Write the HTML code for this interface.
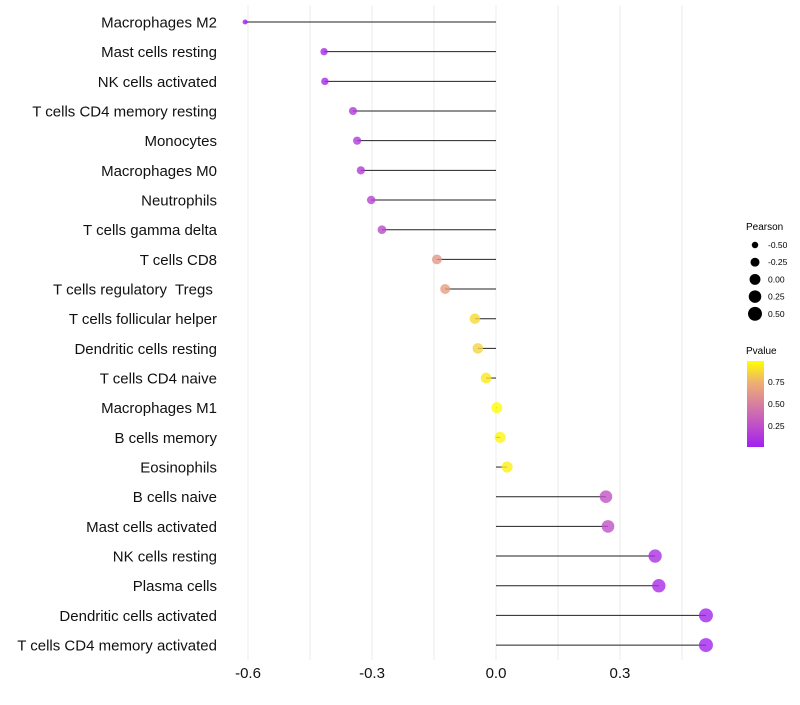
<!DOCTYPE html>
<html><head><meta charset="utf-8"><style>
body{margin:0;background:#fff;font-family:"Liberation Sans",sans-serif}
</style></head><body>
<svg id="chart" width="800" height="700" xmlns="http://www.w3.org/2000/svg" font-family="Liberation Sans, sans-serif">
<defs><linearGradient id="pg" x1="0" y1="1" x2="0" y2="0">
<stop offset="0" stop-color="#a020f0"/><stop offset="0.25" stop-color="#c050c8"/><stop offset="0.5" stop-color="#d87fa0"/><stop offset="0.75" stop-color="#eeb070"/><stop offset="1" stop-color="#ffff00"/></linearGradient></defs>
<g id="grid"></g>
<g id="marks"></g>
<g id="labels"></g>
<g id="xt"></g>
<g id="sl">
<text x="746" y="230" font-size="10">Pearson</text>
</g>
<g>
<text x="746" y="354" font-size="10">Pvalue</text>
<rect x="747" y="361" width="17" height="86" fill="url(#pg)"/>
<text x="768" y="385" font-size="8.5">0.75</text>
<text x="768" y="407" font-size="8.5">0.50</text>
<text x="768" y="429" font-size="8.5">0.25</text>
</g>
</svg>
<script>
const categories=["Macrophages M2","Mast cells resting","NK cells activated","T cells CD4 memory resting","Monocytes","Macrophages M0","Neutrophils","T cells gamma delta","T cells CD8","T cells regulatory  Tregs ","T cells follicular helper","Dendritic cells resting","T cells CD4 naive","Macrophages M1","B cells memory","Eosinophils","B cells naive","Mast cells activated","NK cells resting","Plasma cells","Dendritic cells activated","T cells CD4 memory activated"];
const pearson=[-0.607,-0.416,-0.414,-0.346,-0.336,-0.327,-0.302,-0.276,-0.143,-0.123,-0.051,-0.044,-0.024,0.002,0.01,0.027,0.266,0.271,0.385,0.394,0.508,0.508];
const pvalue=[0.003,0.05,0.05,0.12,0.13,0.14,0.18,0.22,0.62,0.66,0.88,0.86,0.93,0.99,0.97,0.95,0.26,0.25,0.08,0.07,0.02,0.02];
const xTicks=[-0.6,-0.3,0.0,0.3];
const xTickLabels=["-0.6","-0.3","0.0","0.3"];
const sizeLegend=[-0.5,-0.25,0,0.25,0.5];
const sizeLegendLabels=["-0.50","-0.25","0.00","0.25","0.50"];
const NS="http://www.w3.org/2000/svg";
const X=v=>496+v*413.3;
const Y=i=>22+i*29.67;
const R=v=>Math.sqrt(Math.max(2,29.6+38.2*v));
const stops=[[0,[160,32,240]],[0.25,[192,80,200]],[0.5,[216,127,160]],[0.75,[238,176,112]],[1,[255,255,0]]];
function col(p){for(let k=1;k<stops.length;k++){if(p<=stops[k][0]){const a=stops[k-1],b=stops[k],t=(p-a[0])/(b[0]-a[0]);return "rgb("+a[1].map((c,j)=>Math.round(c+(b[1][j]-c)*t)).join(",")+")";}}return "rgb(255,255,0)";}
function mk(t,a,p){const e=document.createElementNS(NS,t);for(const k in a)e.setAttribute(k,a[k]);p.appendChild(e);return e;}
const grid=document.getElementById('grid');
for(let v=-0.6;v<=0.46;v+=0.15){const l=mk('line',{x1:X(v),x2:X(v),y1:5,y2:660,stroke:'#ebebeb','stroke-width':1},grid);

}
const marks=document.getElementById('marks'),labels=document.getElementById('labels');
categories.forEach((c,i)=>{
const l=mk('line',{x1:X(0),x2:X(pearson[i]),y1:Y(i),y2:Y(i),stroke:'#222','stroke-width':1},marks);


const d=mk('circle',{cx:X(pearson[i]),cy:Y(i),r:R(pearson[i]),fill:col(pvalue[i]),'fill-opacity':0.8},marks);


const t=mk('text',{x:217,y:Y(i)+5.5,'text-anchor':'end','font-size':15,fill:'#111',style:'white-space:pre'},labels);
t.textContent=c;


});
const xt=document.getElementById('xt');
xTicks.forEach((v,i)=>{const t=mk('text',{x:X(v),y:678,'text-anchor':'middle','font-size':15,fill:'#111'},xt);
t.textContent=xTickLabels[i];

});
const sl=document.getElementById('sl');
sizeLegend.forEach((v,i)=>{const y=245+i*17.2;
const c=mk('circle',{cx:755,cy:y,r:R(v),fill:'#000'},sl);


const t=mk('text',{x:768,y:y+3,'font-size':8.5},sl);t.textContent=sizeLegendLabels[i];

});
</script>
</body></html>
